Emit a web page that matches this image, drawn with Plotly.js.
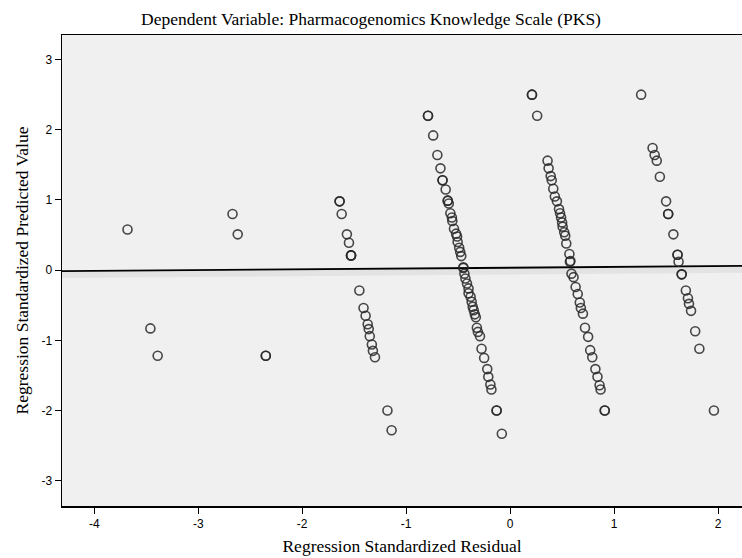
<!DOCTYPE html>
<html>
<head>
<meta charset="utf-8">
<script src="https://cdn.plot.ly/plotly-3.0.1.min.js"></script>
<style>html,body{margin:0;padding:0;background:#fff;}#chart{width:742px;height:558px;}</style>
</head>
<body>
<div id="chart"></div>
<script>
// Regression Standardized Residual (x) and Regression Standardized Predicted Value (y)
const residual = [
  -3.68, -3.46, -3.39, -2.67, -2.62, -2.35, -2.35,
  -1.64, -1.64, -1.62, -1.57, -1.55, -1.53, -1.53, -1.53, -1.45, -1.41, -1.39, -1.37, -1.36, -1.35, -1.33, -1.32, -1.30, -1.18, -1.14,
  -0.79, -0.79, -0.74, -0.70, -0.67, -0.65, -0.65, -0.62, -0.60, -0.60, -0.59, -0.575, -0.56, -0.556, -0.54, -0.52, -0.51, -0.505, -0.49, -0.48, -0.47, -0.45,
  -0.45, -0.44, -0.43, -0.415, -0.40, -0.40, -0.38, -0.37, -0.36, -0.35, -0.34, -0.33, -0.32, -0.31, -0.29, -0.275, -0.25, -0.22, -0.21, -0.19, -0.18, -0.13, -0.13, -0.08,
  0.21, 0.21, 0.26, 0.36, 0.37, 0.39, 0.40, 0.415, 0.43, 0.45, 0.47, 0.48, 0.49, 0.50, 0.505, 0.52, 0.53, 0.54, 0.57, 0.58,
  0.575, 0.59, 0.61, 0.63, 0.65, 0.67, 0.68, 0.70, 0.72, 0.75, 0.77, 0.79, 0.82, 0.84, 0.86, 0.87, 0.91, 0.91,
  1.26, 1.37, 1.39, 1.41, 1.44, 1.50, 1.52, 1.52, 1.57, 1.61, 1.61, 1.62, 1.65, 1.65, 1.69, 1.71, 1.72, 1.74, 1.78, 1.82, 1.96
];
const predicted = [
  0.58, -0.83, -1.22, 0.80, 0.51, -1.22, -1.22,
  0.98, 0.98, 0.80, 0.51, 0.39, 0.21, 0.21, 0.21, -0.29, -0.54, -0.65, -0.77, -0.84, -0.94, -1.06, -1.15, -1.24, -2.00, -2.28,
  2.20, 2.20, 1.92, 1.64, 1.45, 1.28, 1.28, 1.15, 0.99, 0.99, 0.95, 0.81, 0.75, 0.70, 0.59, 0.52, 0.48, 0.40, 0.32, 0.26, 0.20, 0.04,
  0.03, -0.05, -0.12, -0.19, -0.26, -0.33, -0.38, -0.45, -0.52, -0.57, -0.63, -0.67, -0.82, -0.88, -0.94, -1.12, -1.25, -1.41, -1.52, -1.63, -1.70, -2.00, -2.00, -2.33,
  2.50, 2.50, 2.20, 1.56, 1.45, 1.34, 1.28, 1.16, 1.05, 0.98, 0.87, 0.81, 0.75, 0.68, 0.62, 0.54, 0.49, 0.38, 0.23, 0.13,
  0.12, -0.05, -0.10, -0.24, -0.34, -0.46, -0.54, -0.62, -0.82, -0.95, -1.14, -1.24, -1.41, -1.52, -1.64, -1.70, -2.00, -2.00,
  2.50, 1.74, 1.64, 1.56, 1.33, 0.98, 0.80, 0.80, 0.51, 0.22, 0.22, 0.12, -0.06, -0.06, -0.29, -0.40, -0.48, -0.58, -0.87, -1.12, -2.00
];
// Fit line endpoints
const fitX = [-4.31, 2.23];
const fitY = [-0.015, 0.06];
const shadowY = [-0.07, 0.005];

const xTicks = [-4, -3, -2, -1, 0, 1, 2];
const yTicks = [-3, -2, -1, 0, 1, 2, 3];

const serif = 'Liberation Serif, Times New Roman, serif';
const sans = 'Liberation Sans, Arial, sans-serif';

const traces = [
  {x: fitX, y: shadowY, mode: 'lines', line: {color: 'rgba(180,180,180,0.22)', width: 6}, hoverinfo: 'skip', showlegend: false},
  {x: fitX, y: fitY, mode: 'lines', line: {color: '#000', width: 1.8}, hoverinfo: 'skip', showlegend: false},
  {x: residual, y: predicted, mode: 'markers', type: 'scatter',
   marker: {symbol: 'circle-open', size: 9, color: 'rgba(40,40,40,0.85)', line: {width: 1.6, color: 'rgba(40,40,40,0.85)'}},
   showlegend: false}
];

const layout = {
  width: 742, height: 558,
  margin: {l: 62, r: 0, t: 35, b: 52, pad: 0},
  paper_bgcolor: '#ffffff',
  plot_bgcolor: '#f0f0f0',
  showlegend: false,
  title: {text: 'Dependent Variable: Pharmacogenomics Knowledge Scale (PKS)',
          font: {family: serif, size: 17.5, color: '#000'},
          x: 0.5, xref: 'container', xanchor: 'center', y: 0.966, yref: 'container', yanchor: 'middle'},
  xaxis: {
    range: [-4.31, 2.23], tickvals: xTicks, ticktext: xTicks.map(String),
    showgrid: false, zeroline: false,
    showline: true, linecolor: '#000', linewidth: 1.5, mirror: true,
    ticks: 'outside', ticklen: 6, tickwidth: 1, tickcolor: '#000',
    tickfont: {family: sans, size: 12, color: '#000'},
    title: {text: 'Regression Standardized Residual', standoff: 10,
            font: {family: serif, size: 17.5, color: '#000'}}
  },
  yaxis: {
    range: [-3.36, 3.35], tickvals: yTicks, ticktext: yTicks.map(String),
    showgrid: false, zeroline: false,
    showline: true, linecolor: '#000', linewidth: 1.5, mirror: true,
    ticks: 'outside', ticklen: 6, tickwidth: 1, tickcolor: '#000',
    tickfont: {family: sans, size: 12, color: '#000'},
    title: {text: 'Regression Standardized Predicted Value', standoff: 8,
            font: {family: serif, size: 17.5, color: '#000'}}
  }
};

Plotly.newPlot('chart', traces, layout, {displayModeBar: false, staticPlot: true});
</script>
</body>
</html>
